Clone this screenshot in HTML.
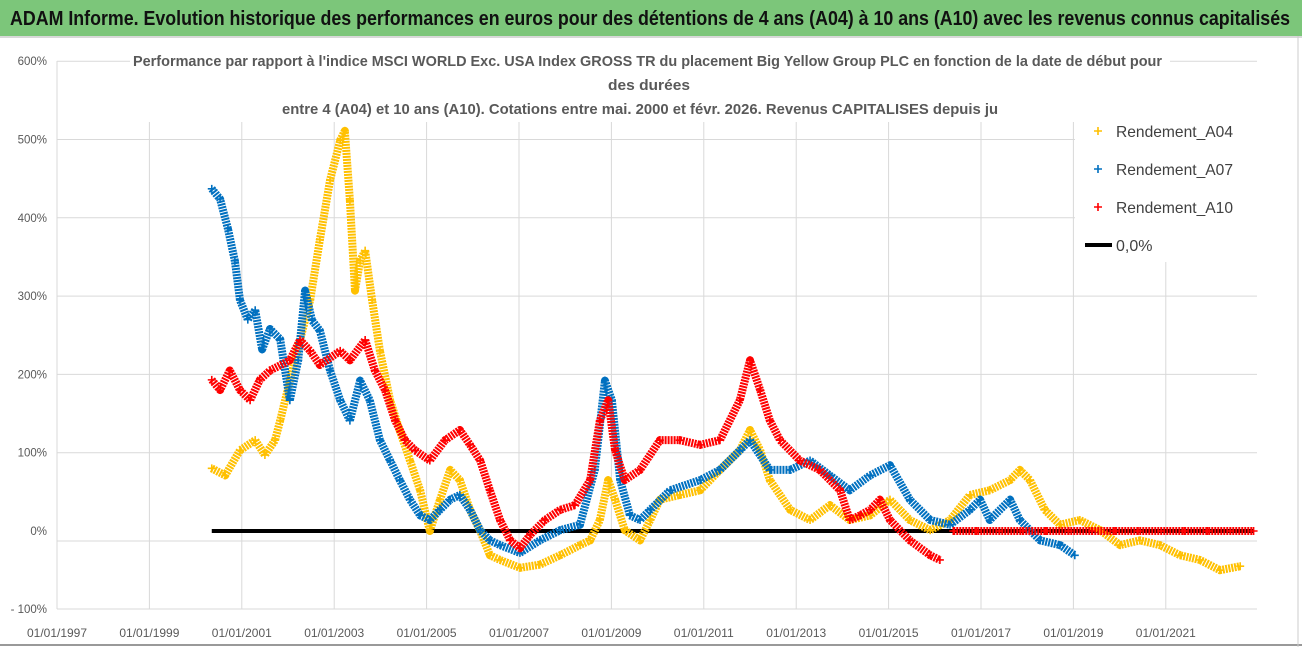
<!DOCTYPE html>
<html><head><meta charset="utf-8"><style>
html,body{margin:0;padding:0;background:#fff;width:1302px;height:647px;overflow:hidden;font-family:"Liberation Sans",sans-serif}
#banner{position:absolute;left:0;top:0;width:1302px;height:36px;background:#7CC67A;border-bottom:2px solid #d8d8d8}
svg{position:absolute;left:0;top:0}
</style></head><body>
<div id="banner"></div>
<svg id="chart" width="1302" height="647">
<text x="10" y="25" font-size="20" font-weight="bold" fill="#111" textLength="1280" lengthAdjust="spacingAndGlyphs" font-family="Liberation Sans, sans-serif">ADAM Informe. Evolution historique des performances en euros pour des détentions de 4 ans (A04) à 10 ans (A10) avec les revenus connus capitalisés</text>
</svg>
<script>
const xTicks=[1997,1999,2001,2003,2005,2007,2009,2011,2013,2015,2017,2019,2021];
const yTicks=[600,500,400,300,200,100,0,-100];
const a04Years=[2000.35,2000.64,2000.96,2001.29,2001.5,2001.72,2001.83,2002.15,2002.48,2002.69,2002.91,2003.13,2003.23,2003.34,2003.45,2003.56,2003.67,2003.82,2003.99,2004.21,2004.42,2004.64,2004.86,2005.07,2005.29,2005.51,2005.72,2005.94,2006.16,2006.37,2006.59,2007.02,2007.45,2007.89,2008.32,2008.54,2008.75,2008.93,2009.08,2009.29,2009.62,2009.84,2010.05,2010.48,2010.92,2011.35,2011.78,2012.0,2012.22,2012.43,2012.87,2013.3,2013.73,2014.16,2014.6,2015.03,2015.46,2015.9,2016.33,2016.76,2017.19,2017.63,2017.84,2018.06,2018.38,2018.71,2019.14,2019.58,2020.01,2020.44,2020.87,2021.31,2021.74,2022.17,2022.61];
const a04Values=[80,71,103,116,97,116,141,218,295,372,448,499,511,422,307,345,358,295,230,167,128,90,52,0,40,78,65,27,0,-31,-37,-47,-43,-31,-18,-12,14,65,40,1,-12,14,40,46,52,78,103,129,103,65,27,14,33,14,20,40,14,1,14,46,52,65,78,65,27,8,14,1,-18,-12,-18,-31,-37,-50,-45];
const a07Years=[2000.35,2000.53,2000.7,2000.85,2000.96,2001.13,2001.29,2001.44,2001.61,2001.83,2002.04,2002.22,2002.37,2002.52,2002.69,2002.91,2003.13,2003.34,2003.56,2003.77,2003.99,2004.21,2004.42,2004.64,2004.86,2005.07,2005.29,2005.51,2005.72,2005.94,2006.16,2006.37,2006.59,2007.02,2007.45,2007.89,2008.32,2008.64,2008.86,2009.01,2009.19,2009.4,2009.62,2009.84,2010.27,2010.92,2011.35,2011.78,2012.0,2012.43,2012.87,2013.3,2013.73,2014.16,2014.6,2015.03,2015.46,2015.9,2016.33,2016.76,2016.98,2017.19,2017.63,2017.84,2018.28,2018.71,2019.03];
const a07Values=[437,424,386,345,295,270,282,232,258,245,167,218,307,269,256,205,167,141,192,167,116,90,65,40,20,14,27,40,46,27,1,-12,-18,-28,-12,1,8,78,192,167,65,20,14,27,52,65,78,103,116,78,78,90,71,52,71,84,40,14,8,27,40,14,40,14,-12,-18,-31];
const a10Years=[2000.35,2000.53,2000.74,2000.96,2001.18,2001.39,2001.61,2002.04,2002.26,2002.48,2002.69,2003.13,2003.34,2003.67,2003.88,2004.1,2004.32,2004.53,2004.75,2005.07,2005.4,2005.72,2005.94,2006.16,2006.37,2006.59,2006.81,2007.02,2007.24,2007.56,2007.89,2008.21,2008.54,2008.75,2008.93,2009.08,2009.29,2009.62,2010.05,2010.48,2010.92,2011.35,2011.78,2012.0,2012.22,2012.43,2012.65,2013.08,2013.51,2013.95,2014.16,2014.38,2014.6,2014.81,2015.03,2015.46,2015.9,2016.11];
const a10Values=[193,180,205,180,167,193,205,218,244,230,212,230,218,244,205,180,141,116,103,90,116,129,110,90,52,14,-12,-22,-5,14,27,33,65,141,167,103,65,78,116,116,110,116,167,218,180,141,116,90,78,52,14,20,27,40,14,-12,-31,-37];
const a10FlatYears=[2016.4,2016.9,2017.4,2017.9,2018.4,2018.9,2019.4,2019.9,2020.4,2020.9,2021.4,2021.9,2022.4,2022.9];
const a10FlatValues=[0,0,0,0,0,0,0,0,0,0,0,0,0,0];
const zeroLine=[[2000.35,0],[2022.9,0]];

const NS="http://www.w3.org/2000/svg";
const svg=document.getElementById('chart');
const X0=57,PXY=46.2,Y0=531,PXV=0.783;
const FONT='Liberation Sans, sans-serif';
function sx(y){return X0+(y-1997)*PXY;}
function sy(v){return Y0-v*PXV;}
function mk(tag,attrs,parent){const e=document.createElementNS(NS,tag);for(const k in attrs)e.setAttribute(k,attrs[k]);(parent||svg).appendChild(e);return e;}

const grid=mk('g',{});


yTicks.forEach(v=>{
  let yy = v===0?541:(v===-100?609:sy(v));
  const l=mk('line',{x1:X0,x2:1257,y1:yy,y2:yy,stroke:'#d9d9d9','stroke-width':1},grid);
  
  
  const t=mk('text',{x:47,y:(v===-100?609:sy(v))+4,'text-anchor':'end','font-size':11.5,fill:'#595959','font-family':FONT});
  t.textContent=(v<0?'- ':'')+Math.abs(v)+'%';
  
  
});
xTicks.forEach(y=>{
  const l=mk('line',{x1:sx(y),x2:sx(y),y1:61,y2:609,stroke:'#d9d9d9','stroke-width':1},grid);
  
  
  const t=mk('text',{x:sx(y)-30,y:637,'font-size':12,fill:'#595959','font-family':FONT,textLength:60,lengthAdjust:'spacingAndGlyphs'});
  t.textContent='01/01/'+y;
  
  
});
mk('line',{x1:X0,x2:X0,y1:61,y2:609,stroke:'#d9d9d9'});

function series(years,vals,color,name){
  const g=mk('g',{});
  
  
  const pts=years.map((y,i)=>sx(y)+','+sy(vals[i])).join(' ');
  mk('polyline',{points:pts,fill:'none',stroke:color,'stroke-width':8,'stroke-linejoin':'round','stroke-dasharray':'2 1'},g);
  years.forEach((y,i)=>{
    const cx=sx(y),cy=sy(vals[i]);
    const p=mk('path',{d:`M${cx-4},${cy}h8M${cx},${cy-4}v8`,stroke:color,'stroke-width':1.6},g);
    
    
  });
}
const zl=mk('line',{x1:sx(zeroLine[0][0]),x2:sx(zeroLine[1][0]),y1:sy(zeroLine[0][1]),y2:sy(zeroLine[1][1]),stroke:'#000','stroke-width':4});


series(a04Years,a04Values,'#FFC000','series-a04');
series(a07Years,a07Values,'#0070C0','series-a07');
series(a10Years,a10Values,'#FF0000','series-a10');
series(a10FlatYears,a10FlatValues,'#FF0000','series-a10-flat');

const tb=mk('g',{});


mk('rect',{x:130,y:46,width:1040,height:76,fill:'#fff'},tb);
[['Performance par rapport à l\'indice MSCI WORLD Exc. USA Index GROSS TR  du placement Big Yellow Group PLC en fonction de la date de début pour',66,133,1029],['des durées',90,608,82],['entre 4 (A04) et 10 ans (A10).  Cotations entre mai. 2000 et févr. 2026. Revenus CAPITALISES depuis ju',114,282,716]].forEach(([s,y,x,w])=>{
  const t=mk('text',{x:x,y:y,'font-size':15,'font-weight':'bold',fill:'#595959','font-family':FONT,textLength:w,lengthAdjust:'spacingAndGlyphs'},tb);
  t.textContent=s;
});

const lg=mk('g',{});


mk('rect',{x:1075,y:112,width:182,height:150,fill:'#fff'},lg);
[['Rendement_A04','#FFC000',131],['Rendement_A07','#0070C0',169],['Rendement_A10','#FF0000',207]].forEach(([s,c,y])=>{
  const e=mk('g',{},lg);
  
  
  mk('path',{d:`M1094,${y}h8M1098,${y-4}v8`,stroke:c,'stroke-width':1.6},e);
  const t=mk('text',{x:1116,y:y+6,'font-size':16,fill:'#404040','font-family':FONT,textLength:117,lengthAdjust:'spacingAndGlyphs'},e);
  t.textContent=s;
});
const e4=mk('g',{},lg);


mk('line',{x1:1085,x2:1112,y1:245,y2:245,stroke:'#000','stroke-width':4},e4);
const t4=mk('text',{x:1116,y:251,'font-size':16,fill:'#404040','font-family':FONT},e4);
t4.textContent='0,0%';
mk('line',{x1:0,x2:1302,y1:645,y2:645,stroke:'#999','stroke-width':2});
mk('line',{x1:1298,x2:1298,y1:36,y2:647,stroke:'#ccc','stroke-width':1});
</script>
</body></html>
